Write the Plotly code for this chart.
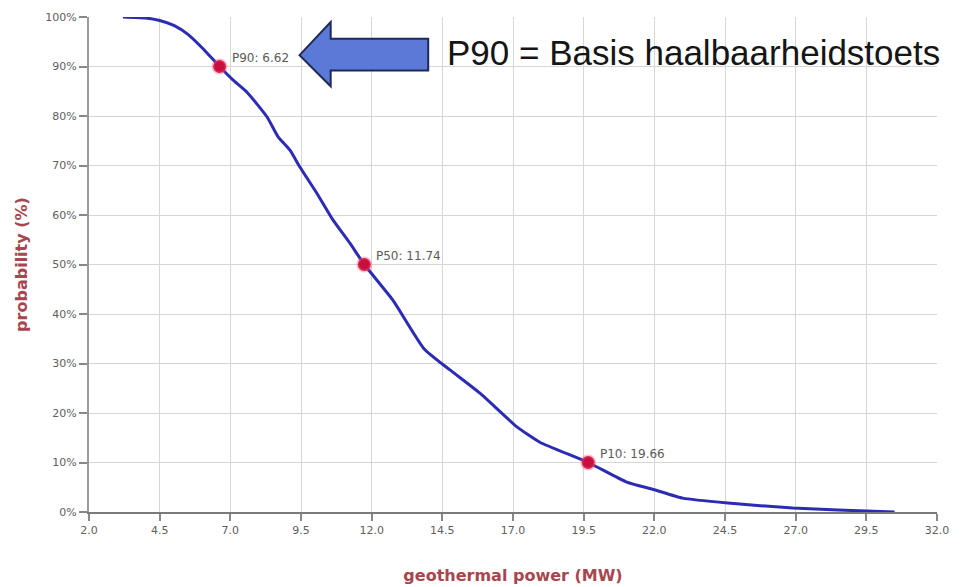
import plotly.graph_objects as go

# Exceedance curve (probability that power >= x)
power_mw = [3.2, 4.0, 4.5, 5.0, 5.5, 6.0, 6.62, 7.09, 7.59, 8.30, 8.69, 9.11, 9.46,
            10.06, 10.63, 11.23, 11.74, 12.75, 13.85, 14.77, 15.83, 17.14,
            17.95, 19.66, 21.0, 22.0, 23.0, 24.6, 26.9, 28.5, 30.5]
probability = [100, 99.8, 99.3, 98.3, 96.5, 93.8, 90, 87.3, 84.8, 79.8, 75.8, 73.1, 69.7,
               64.4, 59, 54.3, 50, 42.8, 33.0, 28.7, 24, 17.2,
               14.1, 10, 6.1, 4.5, 2.8, 1.8, 0.8, 0.4, 0]

p_names = ["P90", "P50", "P10"]
p_power = [6.62, 11.74, 19.66]
p_prob = [90, 50, 10]

x_ticks = [2.0, 4.5, 7.0, 9.5, 12.0, 14.5, 17.0, 19.5, 22.0, 24.5, 27.0, 29.5, 32.0]
y_ticks = [0, 10, 20, 30, 40, 50, 60, 70, 80, 90, 100]

callout_text = "P90 = Basis haalbaarheidstoets"

fig = go.Figure()
fig.add_trace(go.Scatter(x=power_mw, y=probability, mode="lines",
                         line=dict(color="#2b2bb5", width=3, shape="spline", smoothing=0.5),
                         hoverinfo="skip", showlegend=False))
fig.add_trace(go.Scatter(x=p_power, y=p_prob, mode="markers",
                         marker=dict(color="#c8103e", size=13,
                                     line=dict(color="rgba(255,80,120,0.35)", width=3)),
                         showlegend=False))

for n, xv, yv in zip(p_names, p_power, p_prob):
    fig.add_annotation(x=xv, y=yv, text=f"{n}: {xv:.2f}", showarrow=False,
                       xanchor="left", yanchor="middle", xshift=10, yshift=9,
                       font=dict(family="DejaVu Sans", size=12, color="#5a5a5a"))

# Block arrow pointing left (callout)
tip_x, tip_y = 9.45, 92.3
head_x, body_end = 10.55, 14.0
head_top, head_bot = 99.0, 86.0
body_top, body_bot = 95.6, 89.2
path = (f"M {tip_x},{tip_y} L {head_x},{head_top} L {head_x},{body_top} "
        f"L {body_end},{body_top} L {body_end},{body_bot} L {head_x},{body_bot} "
        f"L {head_x},{head_bot} Z")
fig.add_shape(type="path", path=path, xref="x", yref="y",
              fillcolor="#5b7ad8", line=dict(color="#1f2a55", width=2), layer="above")

fig.add_annotation(x=0.713, y=0.929, xref="paper", yref="paper", text=callout_text,
                   showarrow=False, xanchor="center", yanchor="middle",
                   font=dict(family="Liberation Sans, Arial", size=35, color="#151515"))

axis_font = dict(family="DejaVu Sans", size=11, color="#606060")
title_font = dict(family="DejaVu Sans", size=16, color="#a8464f")

fig.update_layout(
    width=957, height=579,
    margin=dict(l=81, r=28, t=9, b=75),
    paper_bgcolor="white", plot_bgcolor="white",
    xaxis=dict(range=[2, 32], tickvals=x_ticks, ticktext=[f"{v:.1f}" for v in x_ticks],
               showgrid=True, gridcolor="#d6d6d6", gridwidth=1, automargin=False,
               showline=True, linecolor="#7a7a7a", linewidth=2,
               ticks="outside", ticklen=7, tickcolor="#888888", tickwidth=2,
               tickfont=axis_font, zeroline=False,
               title=dict(text="<b>geothermal power (MW)</b>", font=title_font, standoff=34)),
    yaxis=dict(range=[0, 100], tickvals=y_ticks, ticktext=[f"{v}%" for v in y_ticks],
               showgrid=True, gridcolor="#d6d6d6", gridwidth=1, automargin=False,
               showline=True, linecolor="#9a9a9a", linewidth=2,
               ticks="outside", ticklen=8, tickcolor="#888888", tickwidth=2,
               tickfont=axis_font, zeroline=False,
               title=dict(text="<b>probability (%)</b>", font=title_font, standoff=14)),
)

fig.write_html("out.html")
